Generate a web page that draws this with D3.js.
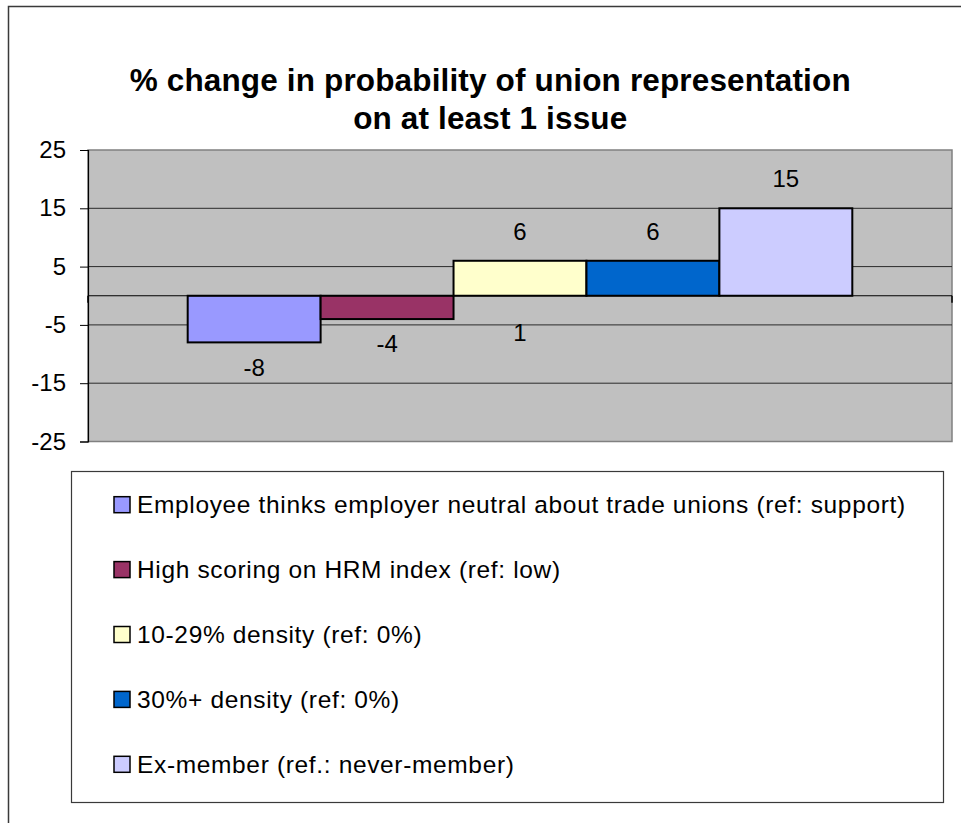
<!DOCTYPE html>
<html>
<head>
<meta charset="utf-8">
<script src="https://cdn.jsdelivr.net/npm/d3@7"></script>
<style>
  body { margin: 0; background: #fff; }
  svg { display: block; }
  text { font-family: "Liberation Sans", Arial, sans-serif; fill: #000; }
</style>
</head>
<body>
<svg id="chart" width="961" height="823"></svg>
<script>
// ---- data ----
const titleLines = ["% change in probability of union representation", "on at least 1 issue"];
const categories = [""];
const seriesNames = [
  "Employee thinks employer neutral about trade unions (ref: support)",
  "High scoring on HRM index (ref: low)",
  "10-29% density (ref: 0%)",
  "30%+ density (ref: 0%)",
  "Ex-member (ref.: never-member)"
];
const seriesValues = [-8, -4, 6, 6, 15];
const seriesColors = ["#9999FF", "#993366", "#FFFFCC", "#0066CC", "#CCCCFF"];
const yTicks = [-25, -15, -5, 5, 15, 25];
const yDomain = [-25, 25];
// free-standing text placed under the third bar
const extraLabels = [{ text: "1", series: 2 }];

// ---- layout ----
const svg = d3.select("#chart");
const chartBox = { left: 8.5, top: 6.5, right: 972, bottom: 840 };
const plot = { left: 88, top: 150, right: 952, bottom: 441.5 };
const legendBox = { left: 71, top: 471, right: 943, bottom: 802 };

// chart area border
svg.append("rect")
  .attr("x", chartBox.left).attr("y", chartBox.top)
  .attr("width", chartBox.right - chartBox.left)
  .attr("height", chartBox.bottom - chartBox.top)
  .attr("fill", "#fff").attr("stroke", "#3a3a3a").attr("stroke-width", 1.5);

// title
const titleX = (chartBox.left + chartBox.right) / 2;
svg.append("g").selectAll("text").data(titleLines).join("text")
  .attr("x", titleX)
  .attr("y", (d, i) => 91 + i * 38)
  .attr("text-anchor", "middle")
  .style("font-size", "31.5px")
  .style("font-weight", "bold")
  .style("letter-spacing", "0.15px")
  .text(d => d);

// scales
const y = d3.scaleLinear().domain(yDomain).range([plot.bottom, plot.top]);
const x0 = d3.scaleBand().domain(categories).range([plot.left, plot.right])
  .paddingInner(0).paddingOuter(0.15);
const x1 = d3.scaleBand().domain(d3.range(seriesValues.length))
  .range([0, x0.bandwidth()]).padding(0);

// plot area
svg.append("rect")
  .attr("x", plot.left).attr("y", plot.top)
  .attr("width", plot.right - plot.left).attr("height", plot.bottom - plot.top)
  .attr("fill", "#C0C0C0").attr("stroke", "#808080").attr("stroke-width", 1.5);

// gridlines
svg.append("g").selectAll("line").data(yTicks.filter(t => t !== yDomain[0] && t !== yDomain[1])).join("line")
  .attr("x1", plot.left).attr("x2", plot.right)
  .attr("y1", d => y(d)).attr("y2", d => y(d))
  .attr("stroke", "#2a2a2a").attr("stroke-width", 1);

// value axis
const yAxis = d3.axisLeft(y).tickValues(yTicks).tickSize(8).tickPadding(14).tickFormat(d => String(d));
const gy = svg.append("g").attr("transform", `translate(${plot.left},0)`).call(yAxis);
gy.select(".domain").attr("stroke", "#000").attr("stroke-width", 1.2);
gy.selectAll(".tick line").attr("stroke", "#000");
gy.selectAll(".tick text")
  .style("font-size", "24px")
  .style("font-family", "'Liberation Sans', Arial, sans-serif")
  .attr("fill", "#000");

// bars
const groups = svg.append("g").selectAll("g").data(categories).join("g")
  .attr("transform", d => `translate(${x0(d)},0)`);
groups.selectAll("rect").data(seriesValues.map((v, i) => ({ v, i }))).join("rect")
  .attr("x", d => x1(d.i))
  .attr("width", x1.bandwidth())
  .attr("y", d => y(Math.max(0, d.v)))
  .attr("height", d => Math.abs(y(d.v) - y(0)))
  .attr("fill", d => seriesColors[d.i])
  .attr("stroke", "#000").attr("stroke-width", 2);

// category axis (zero line) with end ticks
svg.append("line")
  .attr("x1", plot.left).attr("x2", plot.right)
  .attr("y1", y(0)).attr("y2", y(0))
  .attr("stroke", "#000").attr("stroke-width", 1.2);
svg.append("g").selectAll("line").data([plot.left, plot.right]).join("line")
  .attr("x1", d => d).attr("x2", d => d)
  .attr("y1", y(0)).attr("y2", y(0) + 7)
  .attr("stroke", "#000").attr("stroke-width", 1.5);

// value labels
groups.selectAll("text.val").data(seriesValues.map((v, i) => ({ v, i }))).join("text")
  .attr("class", "val")
  .attr("x", d => x1(d.i) + x1.bandwidth() / 2)
  .attr("y", d => d.v >= 0 ? y(d.v) - 29.5 : y(d.v) + 25)
  .attr("dy", "0.35em")
  .attr("text-anchor", "middle")
  .style("font-size", "24px")
  .text(d => String(d.v));

groups.selectAll("text.extra").data(extraLabels).join("text")
  .attr("class", "extra")
  .attr("x", d => x1(d.series) + x1.bandwidth() / 2)
  .attr("y", y(0) + 37)
  .attr("dy", "0.35em")
  .attr("text-anchor", "middle")
  .style("font-size", "24px")
  .text(d => d.text);

// legend
svg.append("rect")
  .attr("x", legendBox.left + 0.5).attr("y", legendBox.top + 0.5)
  .attr("width", legendBox.right - legendBox.left)
  .attr("height", legendBox.bottom - legendBox.top)
  .attr("fill", "#fff").attr("stroke", "#3a3a3a").attr("stroke-width", 1.2);

const legendRows = d3.scaleBand().domain(d3.range(seriesNames.length))
  .range([legendBox.top, legendBox.bottom]).paddingOuter(0.05);
const items = svg.append("g").selectAll("g").data(seriesNames).join("g")
  .attr("transform", (d, i) => `translate(${legendBox.left + 43},${legendRows(i) + legendRows.bandwidth() / 2 - 2})`);
items.append("rect")
  .attr("x", 0).attr("y", -8).attr("width", 16).attr("height", 16)
  .attr("fill", (d, i) => seriesColors[i])
  .attr("stroke", "#000").attr("stroke-width", 1.5);
items.append("text")
  .attr("x", 23).attr("y", 0).attr("dy", "0.35em")
  .style("font-size", "24.5px")
  .style("letter-spacing", "0.65px")
  .text(d => d);
</script>
</body>
</html>
